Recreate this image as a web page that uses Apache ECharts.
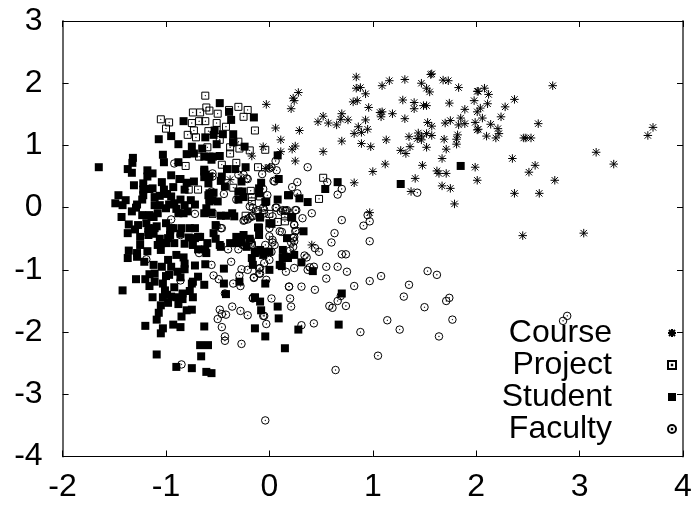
<!DOCTYPE html>
<html><head><meta charset="utf-8">
<style>html,body{margin:0;padding:0;background:#fff}#c{width:700px;height:508px}</style>
<script src="https://cdn.jsdelivr.net/npm/echarts@6/dist/echarts.min.js"></script>
</head><body><div id="c"></div>
<script>
const xTicks=[-2,4], yTicks=[-4,3];
const legendNames=['Course','Project','Student','Faculty'];
const course=[[-.03,1.66],[.28,1.85],[.23,1.76],[.24,1.72],[.21,1.59],[.84,2.10],[.84,1.92],[.88,1.93],[.93,1.83],[.81,1.70],[.85,1.72],[.96,1.61],[1.09,1.96],[1.16,2.04],[1.31,2.06],[1.47,2.0],[1.52,1.92],[1.55,1.86],[1.57,2.15],[1.56,2.14],[1.68,2.05],[1.73,2.04],[1.83,1.93],[2.01,1.87],[1.29,1.73],[1.40,1.69],[1.40,1.59],[1.49,1.64],[1.52,1.64],[1.74,1.68],[1.98,1.72],[1.89,1.58],[2.01,1.54],[1.07,1.53],[1.09,1.54],[1.08,1.46],[1.19,1.51],[1.31,1.43],[.93,1.41],[.70,1.51],[.69,1.42],[.76,1.41],[.65,1.33],[.52,1.47],[.47,1.38],[.57,1.36],[.06,1.28],[.29,1.24],[.11,1.09],[.86,1.30],[.95,1.26],[.89,1.21],[.82,1.19],[.70,1.07],[.89,1.03],[.98,.98],[1.13,1.09],[.52,.90],[.25,.99],[.22,.94],[-.06,.98],[.11,.90],[-.17,.83],[.25,.75],[1.35,1.14],[1.44,1.20],[1.43,1.11],[1.47,1.15],[1.47,1.09],[1.52,1.19],[1.57,1.16],[1.52,.97],[1.27,.92],[1.36,.98],[1.32,.87],[1.69,1.10],[1.82,1.17],[1.81,1.10],[1.81,1.02],[1.71,.94],[1.67,.79],[1.53,1.37],[1.57,1.31],[1.70,1.36],[1.75,1.40],[1.85,1.44],[1.83,1.33],[1.89,1.35],[1.99,1.37],[2.01,1.25],[1.12,.70],[1.0,.58],[1.48,.68],[1.62,.59],[1.64,.55],[1.71,.55],[1.99,.65],[2.01,.44],[1.41,.47],[1.67,.35],[1.75,.31],[1.37,.26],[1.79,.06],[.82,.40],[.97,-.08],[2.74,1.96],[2.08,1.92],[2.02,1.87],[2.12,1.82],[2.11,1.67],[2.04,1.60],[2.37,1.74],[2.28,1.62],[2.24,1.46],[2.06,1.44],[2.14,1.34],[2.02,1.26],[2.21,1.27],[2.22,1.19],[2.10,1.15],[2.19,1.12],[2.60,1.35],[2.46,1.12],[2.48,1.12],[2.53,1.12],[3.71,1.29],[3.66,1.16],[3.16,.89],[3.33,.70],[2.35,.79],[2.57,.68],[2.51,.57],[2.76,.44],[2.37,.23],[2.61,.23],[2.45,-.45],[3.04,-.41],[-.38,.45],[-.04,.63],[-.34,1.04],[.41,-.6],[.0,.65]];
const project=[[-.62,1.80],[-.61,1.61],[-.74,1.53],[-.67,1.53],[-.58,1.56],[-.50,1.51],[-.39,1.57],[-.30,1.62],[-.21,1.57],[-.25,1.46],[-1.05,1.42],[-.97,1.37],[-1.0,1.27],[-.75,1.36],[-.68,1.39],[-.62,1.39],[-.51,1.36],[-.73,1.24],[-.79,1.17],[-.71,1.13],[-.59,1.23],[-.42,1.30],[-.14,1.24],[-.60,.97],[-.48,1.09],[-.30,1.06],[-.35,1.06],[-.38,.97],[-.38,.87],[-.29,.95],[-.19,.92],[-.04,.93],[-.68,.82],[-.32,.72],[-.46,.69],[-.81,.67],[-.11,.65],[-.78,.29],[-.69,.29],[-.35,.32],[-.18,.27],[-.17,.17],[-.17,.10],[-.09,.18],[-.55,-.10],[-.23,-.13],[0,-.10],[.08,-.23],[.15,-.22],[.52,.48],[.48,.14],[.15,-.14],[-.17,-.6],[-.51,1.25]];
const student=[[-.48,1.68],[-.39,1.54],[-.37,1.41],[-.15,1.45],[-.83,1.39],[-.62,1.13],[-.53,1.24],[-.54,1.17],[-.45,1.18],[-.35,1.18],[-1.07,1.10],[-.95,1.15],[-.88,1.02],[-.75,.98],[-.65,.95],[-.51,1.02],[-.24,.98],[-.35,1.05],[-1.03,.85],[-.80,.86],[-.73,.87],[-.63,.82],[-.58,.82],[-.545,.82],[-.48,.83],[-.56,.77],[-1.02,.73],[-.88,.73],[-1.32,.80],[-1.325,.72],[-1.65,.65],[-1.37,.62],[-1.33,.56],[-1.18,.60],[-1.13,.55],[-1.18,.50],[-.95,.52],[-.63,.61],[-.62,.53],[-.58,.50],[-.63,.49],[-.46,.50],[-.47,.43],[-.41,.62],[-.33,.62],[-.23,.65],[.08,.84],[.09,.46],[-.08,.40],[-.10,.31],[-.10,.23],[-.27,.42],[-.43,.34],[-.59,.39],[-.73,.42],[-.86,.46],[-.80,.40],[-1.04,.41],[-1.22,.39],[-.93,.33],[-.82,.29],[-1.22,.29],[-1.16,.30],[-1.13,.31],[-1.46,.20],[-1.39,.12],[-1.49,.07],[-1.42,.04],[-1.22,.20],[-1.23,.13],[-1.11,.17],[-1.06,.19],[-.99,.22],[-.95,.18],[-.86,.13],[-1.28,.05],[-1.33,-.06],[-1.43,-.15],[-1.23,-.12],[-1.29,.0],[-1.11,.04],[-1.06,.04],[-1.0,-.01],[-.92,.07],[-.82,.04],[-.72,.05],[-.88,-.09],[-.83,-.09],[-.79,-.06],[-1.16,-.12],[-1.08,-.09],[-1.12,-.15],[-.58,.23],[-.54,.24],[-.58,.13],[-.58,.10],[-.50,.10],[-.30,.26],[-.26,.26],[-.30,.13],[-.25,.17],[-.03,.10],[.08,.13],[.18,.2],[-.63,-.09],[-.56,-.08],[-.47,-.13],[-.42,-.13],[-.36,-.09],[-.34,-.14],[-.09,-.16],[0,-.25],[-.52,-.28],[-.10,-.32],[-1.0,-.25],[-1.36,-.27],[-1.27,-.28],[-1.17,-.33],[-1.11,-.33],[-.93,-.33],[-.77,-.33],[-1.37,-.41],[-1.25,-.47],[-1.17,-.39],[-1.09,-.30],[-1.25,-.60],[-.95,-.33],[-.85,-.33],[-.72,-.33],[-.96,-.44],[-.92,-.57],[-1.0,-.57],[-1.08,-.60],[-.82,-.58],[-.72,-.49],[-.67,-.47],[-.60,-.57],[-.54,-.41],[-.32,-.47],[-.25,-.44],[-.10,-.44],[-.47,-.63],[-.38,-.57],[-.32,-.57],[-1.36,-.69],[-1.28,-.73],[-1.28,-.79],[-1.37,-.81],[-1.21,-.87],[-.98,-.84],[-.83,-.80],[-.69,-.67],[-.61,-.73],[-.62,-.67],[-1.12,-.92],[-1.04,-.95],[-.82,-.90],[-.82,-.99],[-.89,-1.03],[-.72,-.93],[-.62,-.91],[-.44,-.98],[-.16,-.92],[0,-1.0],[-.14,-.73],[-.06,-.71],[0,-.71],[-.17,-.81],[.1,-.92],[.13,-.81],[.16,-.79],[-1.16,-1.07],[-1.11,-1.06],[-.97,-1.08],[-1.29,-1.15],[-1.11,-1.19],[-1.16,-1.26],[-1.03,-1.22],[-.74,-1.19],[-.69,-1.11],[-.75,-1.22],[-.63,-1.24],[-.44,-1.22],[-.29,-1.19],[-.04,-1.22],[-1.42,-1.33],[-1.01,-1.33],[-.99,-1.40],[-.77,-1.34],[-1.13,-1.44],[-1.03,-1.44],[-.95,-1.43],[-.90,-1.44],[-.84,-1.38],[-.84,-1.47],[-.74,-1.44],[-.42,-1.39],[-.14,-1.45],[-.09,-1.51],[-1.05,-1.57],[-.98,-1.53],[-1.07,-1.69],[-.80,-1.65],[-.75,-1.64],[-.08,-1.65],[.08,-1.59],[-.85,-1.75],[-1.09,-1.80],[.09,-1.78],[-1.20,-1.90],[-.93,-1.88],[-.86,-1.92],[-.63,-1.91],[-.14,-1.94],[-1.03,-1.94],[-1.05,-2.02],[-.04,-2.07],[-.67,-2.21],[-.594,-2.21],[.15,-2.26],[-1.09,-2.36],[-.66,-2.39],[-.90,-2.56],[-.75,-2.58],[-.61,-2.64],[-.56,-2.66],[.33,-.38],[.17,-.49],[-.11,-.32],[.02,-.26],[.21,-.15],[.42,-1.02],[.70,-1.38],[.67,-1.88],[.28,-1.96],[.13,-.68],[.13,-.81],[.18,-.81],[.24,-.76],[.31,-.88],[.12,-.94],[-.14,-.71],[-.09,-.68],[-.03,-.71],[-.06,-.76],[-.14,-1.44],[.66,.41],[.54,.30],[.19,.20],[.29,.15],[.37,.09],[1.85,.67],[1.27,.38],[.22,-.16],[-.09,-.15],[-.04,.09],[-.19,-.50],[-.48,-.60],[-.55,.12],[-.59,.2],[-.61,-.01],[-1.14,-.14],[-.96,-.36],[-1.04,-.57],[-.69,-.47],[-.98,-.49],[-1.17,-.44],[-.63,.58],[-.87,.46],[-1.31,.36],[-1.02,.29],[-.97,.05],[-.9,-.02],[-.76,.12],[-1.19,-.25],[-1.3,-.35],[-.86,-.42],[-.78,-.48],[-1.12,-.42],[-1.06,-.5],[-.74,-.6],[-.9,-.76],[-1.05,-.68],[-1.18,-.7],[-.95,-.95],[-.86,-1.12],[-1.2,-1.15],[-1.0,-1.1],[-.92,-1.28],[-.88,-1.55],[-.52,-.5],[-.27,-.56],[-.22,-.63]];
const faculty=[[-.92,.71],[-.55,.55],[-.55,.50],[-.30,.53],[-.25,.53],[-.22,.47],[0,.63],[.07,.60],[-.07,.54],[.05,.42],[-.06,.30],[-.02,.20],[-.44,.22],[-.32,.13],[-.72,-.10],[-.95,-.19],[-.56,.26],[-.19,.02],[-.13,-.06],[-.06,0],[.07,0],[.15,-.05],[-.25,-.21],[-.21,-.19],[-.17,-.13],[-.05,-.09],[.03,-.14],[0,-.33],[-.51,-.29],[-.46,-.33],[.06,.75],[.02,.65],[.37,.65],[.27,.41],[.22,.33],[.27,.23],[.56,.41],[.70,.30],[.66,.21],[1.43,.24],[.41,-.09],[.32,-.17],[.25,-.04],[.16,-.05],[.11,-.06],[.06,0],[.70,-.20],[.95,-.12],[.97,-.22],[.91,-.29],[.24,-.28],[.63,-.41],[.60,-.56],[.97,-.54],[.25,-.38],[.12,-.39],[.03,-.56],[.23,-.49],[.21,-.56],[.23,-.63],[0,-.46],[-.04,-.60],[.44,-.65],[.48,-.71],[.70,-.75],[.74,-.75],[.36,-.80],[.20,-.69],[.02,-.71],[0,-.84],[.43,-.95],[.39,-.96],[.55,-.95],[.66,-.95],[.75,-1.03],[.24,-.97],[.16,-1.03],[-.09,-.97],[-.09,-1.06],[-.15,-1.13],[-.03,-1.16],[.55,-1.14],[.97,-1.18],[1.08,-1.10],[1.53,-1.02],[1.62,-1.08],[1.35,-1.24],[.82,-1.26],[.19,-1.27],[.31,-1.27],[.44,-1.32],[1.30,-1.43],[1.50,-1.60],[1.71,-1.50],[1.74,-1.45],[1.77,-1.80],[.66,-1.50],[.69,-1.42],[.74,-1.58],[.58,-1.58],[.61,-1.61],[.20,-1.46],[.21,-1.59],[.02,-1.46],[-.16,-1.46],[-.05,-1.74],[-.03,-1.87],[.31,-1.89],[.43,-1.86],[1.14,-1.81],[1.26,-1.96],[1.64,-2.07],[.88,-2.0],[1.05,-2.38],[.64,-2.61],[-.04,-3.42],[-.86,-.44],[-.19,-.52],[-.25,-.60],[-.40,-.67],[-.30,-.67],[-.17,-.60],[-.68,-.73],[-1.19,-.83],[-.37,-.87],[-.56,-.92],[-.05,-.89],[-.27,-.99],[-.21,-1.0],[-.10,-.98],[-.10,-1.06],[-.29,-1.09],[-.54,-1.09],[-.49,-1.15],[-.86,-1.17],[-.35,-1.22],[-.28,-1.26],[-.15,-1.12],[-.43,-1.38],[-.16,-1.45],[-.48,-1.64],[-.46,-1.71],[-.42,-1.72],[-.36,-1.59],[-.28,-1.66],[-.21,-1.73],[-.50,-1.79],[-.06,-1.74],[-.46,-1.92],[-.43,-2.07],[-.43,-2.14],[-.27,-2.19],[-.85,-2.52],[2.88,-1.74],[2.84,-1.82],[.13,-.04],[.17,-.04],[.26,-.04],[-.16,0],[-.11,-.04],[-.05,-.04],[-.24,-.2],[-.19,-.16],[-.16,-.14],[.24,-.27],[-.47,-.33],[.10,-.38],[.26,-.37],[.24,-.47],[.24,-.54],[.03,-.52],[-.18,-.52],[-.26,-.6],[-.18,-.58],[.05,-.6],[.37,-1.0],[.19,-1.27],[.34,-.77],[-.21,.46],[.04,.43]];
const STAR='path://M-4 0L4 0M0 -4L0 4M-3 -3L3 3M-3 3L3 -3';
const BOX='path://M-3.5 -3.5L3.5 -3.5L3.5 3.5L-3.5 3.5ZM-.2 -.2L.2 -.2L.2 .2L-.2 .2Z';
const RING='path://M-3.5 0A3.5 3.5 0 1 1 3.5 0A3.5 3.5 0 1 1 -3.5 0ZM-.2 -.2L.2 -.2L.2 .2L-.2 .2Z';
const font='"Liberation Sans",Arial,sans-serif';
const chart=echarts.init(document.getElementById('c'),null,{renderer:'canvas'});
const stroke={color:'transparent',borderColor:'#000',borderWidth:1,opacity:1};
function xa(pos,show){return {type:'value',position:pos,min:xTicks[0],max:xTicks[1],interval:1,splitLine:{show:false},
  axisLine:{show:true,onZero:false,lineStyle:{color:'#000',width:1}},axisTick:{show:true,inside:true,length:6,lineStyle:{color:'#000',width:1}},
  axisLabel:{show:show,color:'#000',fontFamily:font,fontSize:32,margin:15}};}
function ya(pos,show){return {type:'value',position:pos,min:yTicks[0],max:yTicks[1],interval:1,splitLine:{show:false},
  axisLine:{show:true,onZero:false,lineStyle:{color:'#666',width:2}},axisTick:{show:true,inside:true,length:6,lineStyle:{color:'#000',width:1}},
  axisLabel:{show:show,color:'#000',fontFamily:font,fontSize:32,margin:20}};}
chart.setOption({
  animation:false,backgroundColor:'#fff',
  grid:{left:62.6,right:17,top:21,bottom:51.5,containLabel:false},
  xAxis:[xa('bottom',true),xa('top',false)],
  yAxis:[ya('left',true),ya('right',false)],
  legend:{show:true,orient:'vertical',align:'right',right:23,top:317,padding:0,itemGap:0,itemWidth:8,itemHeight:8,selectedMode:false,
    data:legendNames,textStyle:{color:'#000',fontFamily:font,fontSize:32,lineHeight:32,padding:[0,51,0,0]}},
  series:[
    {name:legendNames[0],type:'scatter',data:course,symbol:STAR,symbolSize:8.5,itemStyle:stroke,silent:true},
    {name:legendNames[1],type:'scatter',data:project,symbol:BOX,symbolSize:7,itemStyle:stroke,silent:true},
    {name:legendNames[3],type:'scatter',data:faculty,symbol:RING,symbolSize:7.5,itemStyle:stroke,silent:true},
    {name:legendNames[2],type:'scatter',data:student,symbol:'rect',symbolSize:8,itemStyle:{color:'#000',opacity:1},silent:true}
  ]
});
</script></body></html>
